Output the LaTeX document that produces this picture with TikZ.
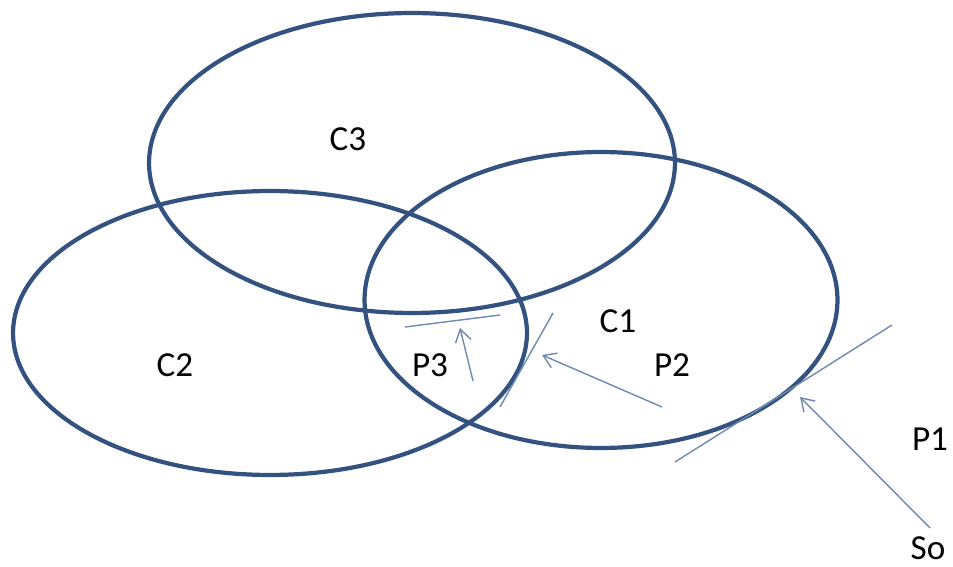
\documentclass[tikz,border=0pt]{standalone}
\usepackage{fontspec}
\setmainfont{Carlito}
\usepackage{tikz}
\usetikzlibrary{arrows.meta}
\definecolor{ringblue}{RGB}{52, 82, 128}
\definecolor{rayblue}{RGB}{110, 138, 178}
\tikzset{
  ring/.style={line width=2.4pt, draw=ringblue},
  tangent/.style={line width=0.8pt, draw=rayblue},
  ray/.style={-{Straight Barb[length=7pt, width=9pt]}, line width=0.8pt, draw=rayblue},
  tag/.style={font=\fontsize{20}{22}\selectfont, inner sep=0pt},
}

\begin{document}
\begin{tikzpicture}[x=0.02cm, y=-0.02cm]

  \useasboundingbox (0,0) rectangle (953,567);

  % ── Sets ──
  \draw[ring] (412,163) ellipse [x radius=5.26cm, y radius=3.0cm];
  \draw[ring] (270,333) ellipse [x radius=5.14cm, y radius=2.84cm];
  \draw[ring] (601,300) ellipse [x radius=4.73cm, y radius=2.96cm];

  % ── Labels ──
  \node[tag] (c3) at (348,139) {C3};
  \node[tag] (c2) at (175,365) {C2};
  \node[tag] (c1) at (618,321) {C1};
  \node[tag] (p3) at (430,365) {P3};
  \node[tag] (p2) at (672,365) {P2};
  \node[tag] (p1) at (930,439) {P1};
  \node[tag] (so) at (928,548) {So};

  % ── Tangent points ──
  \coordinate (t3a) at (405,327);
  \coordinate (t3b) at (500,315);
  \coordinate (t2a) at (553,313);
  \coordinate (t2b) at (500,407);
  \coordinate (t1a) at (675,462);
  \coordinate (t1b) at (892,325);

  \coordinate (h3) at (460,328);
  \coordinate (s3) at (473,381);
  \coordinate (h2) at (542,355);
  \coordinate (s2) at (662,407);
  \coordinate (h1) at (800,397);
  \coordinate (s1) at (930,528);

  % ── Tangents ──
  \draw[tangent] (t3a) -- (t3b);
  \draw[tangent] (t2a) -- (t2b);
  \draw[tangent] (t1a) -- (t1b);

  % ── Rays ──
  \draw[ray] (s3) -- (h3);
  \draw[ray] (s2) -- (h2);
  \draw[ray] (s1) -- (h1);

\end{tikzpicture}
\end{document}
